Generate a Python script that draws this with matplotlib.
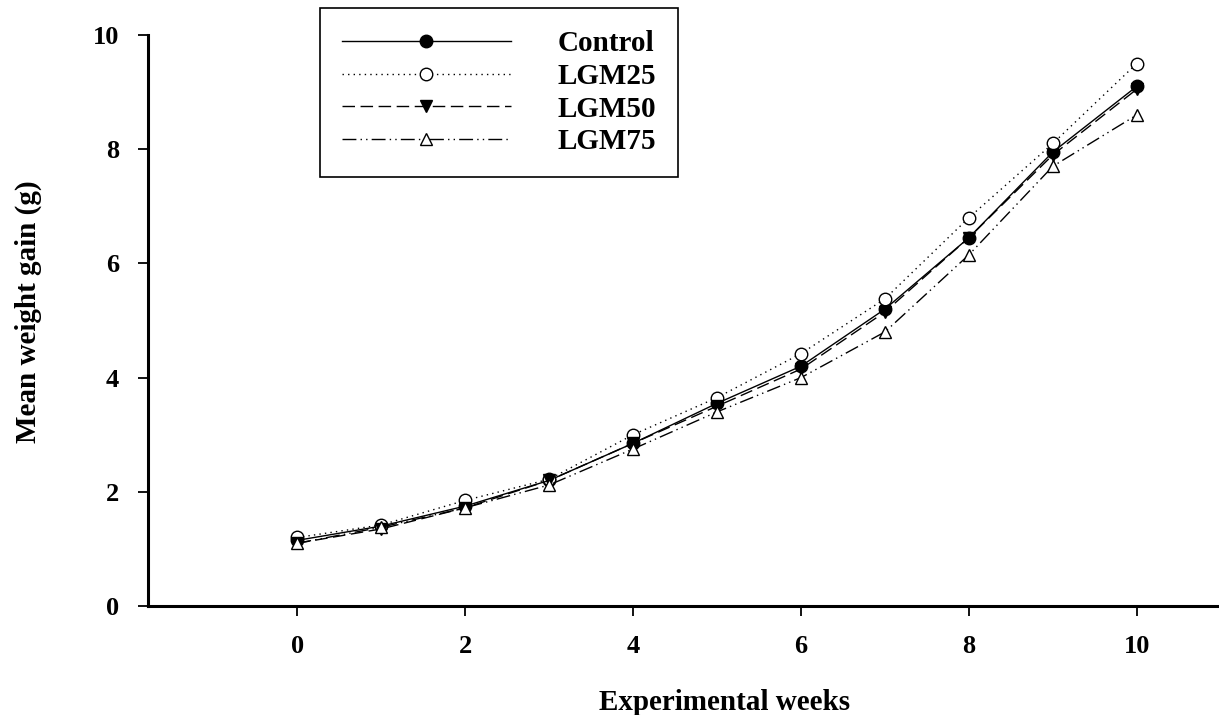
import matplotlib
matplotlib.use("Agg")
import matplotlib.pyplot as plt

# weekly mean weight gain (g)
weeks = [0, 1, 2, 3, 4, 5, 6, 7, 8, 9, 10]
control = [1.15, 1.40, 1.75, 2.20, 2.85, 3.55, 4.20, 5.20, 6.45, 7.95, 9.10]
lgm25 = [1.20, 1.42, 1.85, 2.22, 3.00, 3.65, 4.42, 5.38, 6.80, 8.10, 9.50]
lgm50 = [1.10, 1.35, 1.72, 2.20, 2.85, 3.50, 4.15, 5.15, 6.45, 7.90, 9.05]
lgm75 = [1.10, 1.38, 1.72, 2.12, 2.75, 3.40, 4.00, 4.80, 6.15, 7.70, 8.60]

plt.rcParams['font.family'] = 'Liberation Serif'
plt.rcParams['font.weight'] = 'bold'

fig = plt.figure(figsize=(12.19, 7.15), dpi=100)
ax = fig.add_axes([148/1219, 1-606/715, 1-148/1219, (606-35)/715])

ms = 9
ax.plot(weeks, control, color='k', lw=1, ls='-', marker='o', ms=ms,
        mfc='k', mec='k', label='Control')
ax.plot(weeks, lgm25, color='k', lw=1, ls=(0, (1, 3)), marker='o', ms=ms,
        mfc='white', mec='k', label='LGM25')
ax.plot(weeks, lgm50, color='k', lw=1, ls=(0, (9, 4)), marker='v', ms=ms,
        mfc='k', mec='k', label='LGM50')
ax.plot(weeks, lgm75, color='k', lw=1, ls=(0, (10, 3, 1, 3, 1, 3)), marker='^', ms=ms,
        mfc='white', mec='k', label='LGM75')

ax.set_xlim(-1.78, 10.98)
ax.set_ylim(0, 10)
ax.set_xticks([0, 2, 4, 6, 8, 10])
ax.set_yticks([0, 2, 4, 6, 8, 10])

for s in ['top', 'right']:
    ax.spines[s].set_visible(False)
for s in ['left', 'bottom']:
    ax.spines[s].set_linewidth(2.2)

ax.tick_params(axis='both', direction='out', length=7, width=1.3, labelsize=19)
ax.tick_params(axis='x', pad=14)
ax.tick_params(axis='y', pad=14)

ax.set_xlabel('Experimental weeks', fontsize=21, fontweight='bold', labelpad=22)
ax.xaxis.label.set_x(0.538)
ax.set_ylabel('Mean weight gain (g)', fontsize=21, fontweight='bold', labelpad=36)
ax.yaxis.label.set_y(0.515)

lg = fig.legend(loc='upper left', bbox_to_anchor=(320/1219, 1-8/715),
                borderaxespad=0, fontsize=21, handlelength=5.8, handletextpad=1.6,
                borderpad=0.75, labelspacing=0.2, fancybox=False,
                edgecolor='k', framealpha=1)
lg.get_frame().set_linewidth(1.2)

fig.savefig('out.png', dpi=100)
